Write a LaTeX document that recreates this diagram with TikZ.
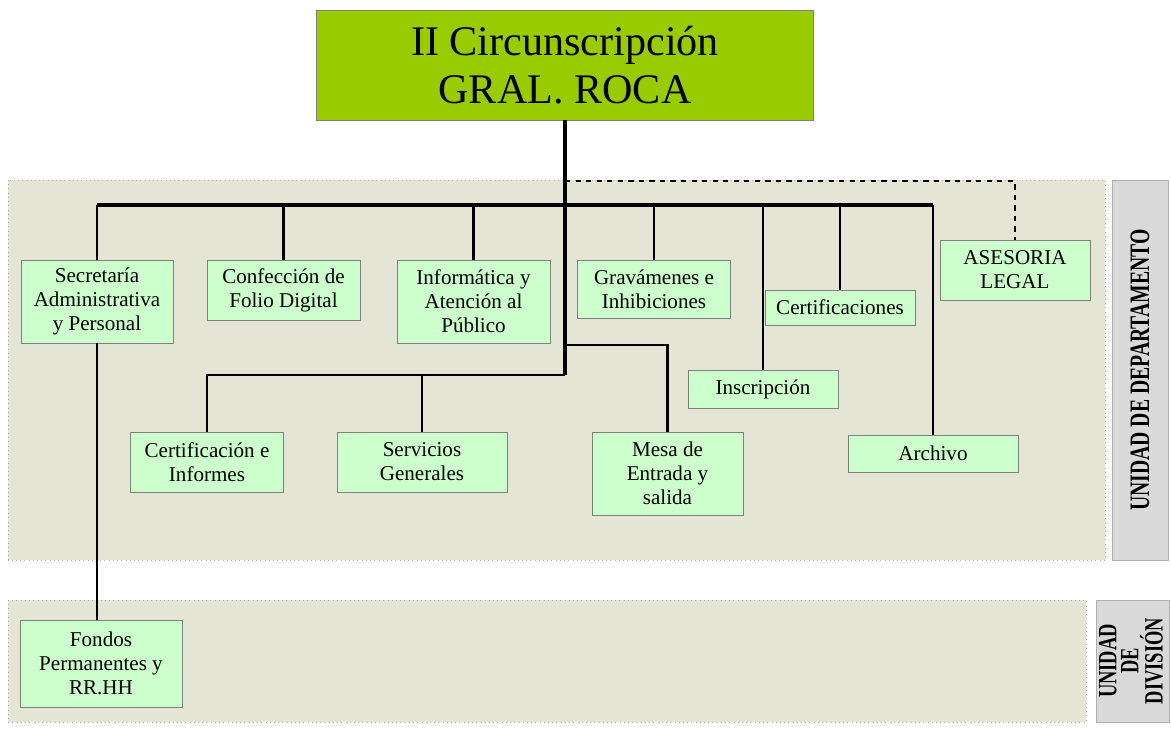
\documentclass[tikz,border=0pt]{standalone}
\usepackage{fontspec}
\setmainfont{Liberation Serif}
\newfontfamily\sidefont{Liberation Serif}[FakeStretch=0.7]
\usetikzlibrary{positioning}
\definecolor{headgreen}{RGB}{153,204,0}
\definecolor{boxgreen}{RGB}{204,255,204}
\definecolor{boxgray}{RGB}{128,128,128}
\definecolor{panelfill}{RGB}{229,229,214}
\definecolor{panelline}{RGB}{175,175,175}
\definecolor{sidefill}{RGB}{217,217,217}

\begin{document}
\begin{tikzpicture}[
	x=0.02cm, y=-0.02cm,
	UnitBox/.style={rectangle, draw=boxgray, fill=boxgreen, align=center,
		inner sep=0pt, font=\fontsize{12}{13.6}\selectfont},
	HeadBox/.style={rectangle, draw=boxgray, fill=headgreen, align=center,
		inner sep=0pt, font=\fontsize{24}{27}\selectfont},
	Panel/.style={draw=panelline, dotted, fill=panelfill},
	SideLabel/.style={rectangle, draw=panelline, fill=sidefill, rotate=90,
		align=center, inner sep=0pt, font=\sidefont\bfseries\fontsize{16}{14}\selectfont},
	Link/.style={line width=1.6pt},
	Trunk/.style={line width=2.6pt},
	DashLink/.style={line width=1.1pt, dashed}
	]
\useasboundingbox (0,0) rectangle (1171,729);

% background panels
\draw[Panel] (8,180) rectangle (1105,560);
\draw[Panel] (8,600) rectangle (1086,722);
\node[SideLabel, minimum width=7.6cm, minimum height=1.12cm] (deptlabel) at (1140,370) {UNIDAD DE DEPARTAMENTO};
\node[SideLabel, minimum width=2.44cm, minimum height=1.46cm] (divlabel) at (1133,661) {};
\node[SideLabel, draw=none, fill=none, font=\sidefont\bfseries\fontsize{15}{12.5}\selectfont] (divtext) at (1131,661) {UNIDAD\\DE\\DIVISIÓN};

% units
\node[HeadBox, minimum width=9.94cm, minimum height=2.2cm] (head) at (565,65) {II Circunscripción\\GRAL. ROCA};
\node[UnitBox, minimum width=3.04cm, minimum height=1.66cm] (secre) at (97,301.5) {Secretaría\\Administrativa\\y Personal};
\node[UnitBox, minimum width=3.06cm, minimum height=1.2cm] (folio) at (283.5,290) {Confección de\\Folio Digital};
\node[UnitBox, minimum width=3.06cm, minimum height=1.66cm] (informa) at (473.5,301.5) {Informática y\\Atención al\\Público};
\node[UnitBox, minimum width=3.06cm, minimum height=1.16cm] (grava) at (654,289) {Gravámenes e\\Inhibiciones};
\node[UnitBox, minimum width=3.0cm, minimum height=0.7cm] (certs) at (840,307.5) {Certificaciones};
\node[UnitBox, minimum width=3.0cm, minimum height=1.2cm] (asesoria) at (1015,270) {ASESORIA\\LEGAL};
\node[UnitBox, minimum width=3.0cm, minimum height=0.76cm] (inscrip) at (763,389) {Inscripción};
\node[UnitBox, minimum width=3.4cm, minimum height=0.74cm] (archivo) at (933,453.5) {Archivo};
\node[UnitBox, minimum width=3.06cm, minimum height=1.2cm] (certinf) at (207,462) {Certificación e\\Informes};
\node[UnitBox, minimum width=3.4cm, minimum height=1.2cm] (servicios) at (422,462) {Servicios\\Generales};
\node[UnitBox, minimum width=3.02cm, minimum height=1.66cm] (mesa) at (667.5,473.5) {Mesa de\\Entrada y\\salida};
\node[UnitBox, minimum width=3.24cm, minimum height=1.74cm] (fondos) at (101,663.5) {Fondos\\Permanentes y\\RR.HH};

% connectors
\coordinate (dashturn) at (1015,181);
\coordinate (hub) at (565,205);
\coordinate (mesabar) at (565,345);
\coordinate (lowbar) at (565,375);

\draw[DashLink] (head.south |- dashturn) -| (asesoria.north);
\draw[Trunk] (head.south) -- (lowbar);
\draw[Trunk] (secre.north |- hub) -- (archivo.north |- hub);
\foreach \unit in {secre, folio, informa, grava, inscrip, certs, archivo}
	\draw[Link] (\unit.north |- hub) -- (\unit.north);
\draw[Link] (mesabar) -| (mesa.north);
\draw[Link] (lowbar) -| (certinf.north);
\draw[Link] (servicios.north |- lowbar) -- (servicios.north);
\draw[Link] (secre.south) -- (secre.south |- fondos.north);

\end{tikzpicture}
\end{document}
